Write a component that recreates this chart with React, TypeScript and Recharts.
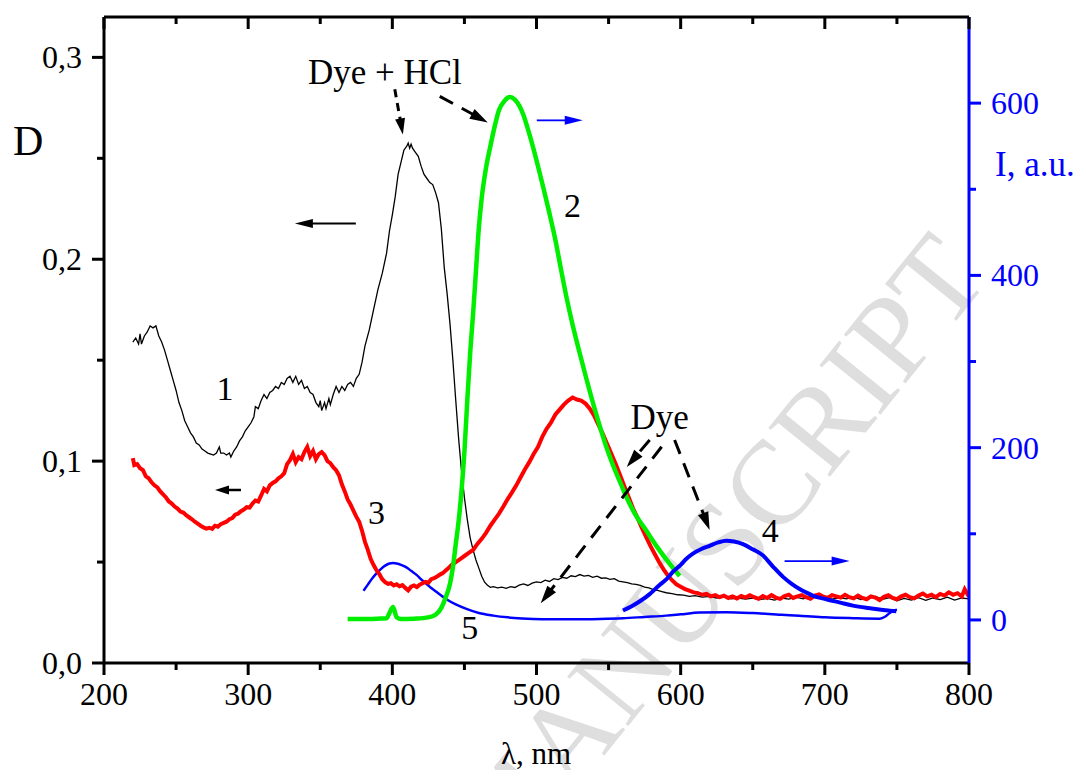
import React from 'react';
import { LineChart, Line, XAxis, YAxis, ReferenceLine, ReferenceDot } from 'recharts';

const FONT = '"Liberation Serif", "Times New Roman", Times, serif';

// ---------- axes ----------
const xMajorTicks = [200, 300, 400, 500, 600, 700, 800];
const xMinorTicks = [250, 350, 450, 550, 650, 750];
const leftMajorTicks = [0, 0.1, 0.2, 0.3];
const leftMinorTicks = [0.05, 0.15, 0.25];
const rightMajorTicks = [0, 200, 400, 600];
const rightMinorTicks = [100, 300, 500];
const xDomain: [number, number] = [200, 800];
const leftDomain: [number, number] = [0, 0.32];
const rightDomain: [number, number] = [-50, 700];

// ---------- curve 1: absorbance, Dye + HCl (left axis) ----------
const curve1: [number, number][] = [
  [220, 0.159], [222, 0.161], [224, 0.158], [225, 0.163], [226, 0.158], [228, 0.162], [230, 0.164],
  [232, 0.167], [234, 0.166], [236, 0.167], [238, 0.162], [240, 0.159], [242, 0.155], [244, 0.15],
  [246, 0.145], [248, 0.14], [250, 0.135], [252, 0.129], [254, 0.125], [256, 0.12], [258, 0.117],
  [260, 0.114], [262, 0.112], [264, 0.109], [266, 0.108], [268, 0.106], [270, 0.105], [272, 0.104],
  [274, 0.1035], [276, 0.103], [278, 0.104], [280, 0.107], [281, 0.104], [283, 0.104], [285, 0.103],
  [287, 0.104], [288, 0.102], [290, 0.105], [292, 0.107], [294, 0.11], [296, 0.112], [298, 0.115],
  [300, 0.117], [302, 0.119], [304, 0.122], [305, 0.127], [307, 0.126], [309, 0.13], [311, 0.133],
  [313, 0.131], [315, 0.134], [317, 0.135], [319, 0.137], [321, 0.136], [323, 0.139], [325, 0.138],
  [327, 0.141], [329, 0.142], [331, 0.139], [333, 0.142], [335, 0.138], [337, 0.14], [339, 0.136],
  [341, 0.137], [343, 0.134], [345, 0.133], [347, 0.129], [349, 0.127], [350, 0.13], [351, 0.125],
  [353, 0.129], [354, 0.126], [356, 0.131], [357, 0.128], [359, 0.133], [361, 0.137], [363, 0.134],
  [365, 0.137], [367, 0.135], [369, 0.138], [371, 0.139], [373, 0.137], [375, 0.141], [377, 0.143],
  [379, 0.149], [381, 0.157], [384, 0.165], [387, 0.175], [390, 0.185], [393, 0.193], [396, 0.203],
  [398, 0.214], [400, 0.222], [402, 0.231], [404, 0.242], [406, 0.248], [408, 0.254], [410, 0.256],
  [411, 0.2575], [412, 0.255], [413, 0.257], [414, 0.255], [416, 0.253], [418, 0.251], [420, 0.246],
  [422, 0.242], [424, 0.24], [426, 0.238], [428, 0.237], [430, 0.233], [432, 0.228], [434, 0.215],
  [436, 0.196], [438, 0.183], [440, 0.168], [442, 0.15], [444, 0.13], [446, 0.111], [448, 0.095],
  [450, 0.082], [452, 0.071], [454, 0.062], [456, 0.056], [458, 0.051], [460, 0.047], [462, 0.043],
  [464, 0.04], [466, 0.0385], [468, 0.0375], [470, 0.0378], [473, 0.0372], [476, 0.0376], [479, 0.037],
  [482, 0.0378], [485, 0.0374], [488, 0.0386], [491, 0.0392], [494, 0.0384], [497, 0.0396], [500, 0.0402],
  [503, 0.0398], [506, 0.041], [509, 0.0404], [512, 0.0418], [515, 0.0413], [518, 0.0424], [521, 0.042],
  [524, 0.0432], [527, 0.0428], [530, 0.0438], [533, 0.043], [536, 0.0434], [539, 0.0424], [542, 0.043],
  [545, 0.042], [548, 0.0422], [551, 0.0414], [554, 0.0418], [557, 0.0406], [560, 0.0402], [563, 0.0398],
  [566, 0.0392], [569, 0.039], [572, 0.0384], [575, 0.0376], [578, 0.0372], [581, 0.0364], [584, 0.036],
  [587, 0.0354], [590, 0.0348], [594, 0.0344], [598, 0.0338], [602, 0.0336], [606, 0.033], [610, 0.0334],
  [615, 0.0326], [620, 0.033], [625, 0.0322], [630, 0.0326], [635, 0.0318], [640, 0.0322], [645, 0.0316],
  [650, 0.0322], [655, 0.0314], [660, 0.032], [665, 0.0312], [670, 0.0322], [675, 0.0316], [680, 0.0326],
  [685, 0.0318], [690, 0.033], [695, 0.032], [700, 0.0326], [705, 0.0316], [710, 0.0324], [715, 0.0318],
  [720, 0.0328], [725, 0.0314], [730, 0.0322], [735, 0.033], [740, 0.0316], [745, 0.0324], [750, 0.0308],
  [755, 0.032], [760, 0.0312], [765, 0.0324], [770, 0.031], [775, 0.0322], [780, 0.0314], [785, 0.0326],
  [790, 0.0312], [795, 0.0322], [800, 0.0318],
];

// ---------- curve 3: absorbance, Dye (left axis) ----------
const curve3: [number, number][] = [
  [220, 0.1015], [221, 0.098], [223, 0.0985], [225, 0.0965], [227, 0.0955], [229, 0.0925], [231, 0.0915],
  [233, 0.0895], [235, 0.088], [237, 0.087], [239, 0.085], [241, 0.0835], [243, 0.082], [245, 0.08],
  [247, 0.079], [249, 0.0775], [251, 0.0765], [253, 0.075], [255, 0.0745], [257, 0.0732], [259, 0.0722],
  [261, 0.0712], [263, 0.07], [265, 0.069], [267, 0.068], [269, 0.0672], [271, 0.0666], [273, 0.067],
  [275, 0.0664], [277, 0.068], [279, 0.0675], [281, 0.0688], [283, 0.0694], [285, 0.07], [287, 0.0712],
  [289, 0.0718], [291, 0.0735], [293, 0.074], [295, 0.0752], [297, 0.076], [299, 0.0772], [301, 0.077],
  [303, 0.079], [305, 0.0805], [307, 0.08], [309, 0.083], [311, 0.0862], [313, 0.085], [315, 0.088],
  [317, 0.0892], [319, 0.09], [321, 0.0915], [323, 0.0925], [325, 0.094], [327, 0.0985], [329, 0.1005],
  [331, 0.1035], [333, 0.0995], [335, 0.102], [337, 0.101], [339, 0.1045], [341, 0.107], [343, 0.1025],
  [345, 0.105], [347, 0.101], [349, 0.1035], [351, 0.1045], [353, 0.103], [355, 0.1], [357, 0.099],
  [359, 0.097], [361, 0.0955], [363, 0.093], [365, 0.0885], [367, 0.085], [369, 0.081], [371, 0.0785],
  [373, 0.0755], [375, 0.0725], [377, 0.07], [379, 0.0655], [381, 0.06], [383, 0.056], [385, 0.0515],
  [387, 0.0485], [389, 0.046], [391, 0.044], [393, 0.0415], [395, 0.04], [397, 0.0392], [399, 0.0395],
  [401, 0.0384], [403, 0.039], [405, 0.038], [407, 0.0386], [409, 0.0372], [411, 0.036], [413, 0.0378],
  [415, 0.0384], [417, 0.0376], [419, 0.0388], [421, 0.0395], [423, 0.0402], [425, 0.0398], [427, 0.0415],
  [429, 0.042], [431, 0.0428], [433, 0.0438], [435, 0.0445], [437, 0.0458], [439, 0.047], [441, 0.0485],
  [444, 0.05], [447, 0.0515], [450, 0.053], [453, 0.0545], [456, 0.056], [459, 0.059], [462, 0.0615],
  [465, 0.0645], [468, 0.068], [471, 0.071], [474, 0.074], [477, 0.0775], [480, 0.0812], [483, 0.0845],
  [486, 0.088], [489, 0.092], [492, 0.096], [495, 0.0995], [498, 0.1035], [501, 0.107], [504, 0.112],
  [507, 0.116], [510, 0.119], [513, 0.123], [516, 0.1255], [519, 0.128], [522, 0.13], [525, 0.1315],
  [528, 0.1305], [531, 0.13], [534, 0.1285], [537, 0.126], [540, 0.1225], [543, 0.118], [546, 0.1135],
  [549, 0.1085], [552, 0.1035], [555, 0.0985], [558, 0.093], [561, 0.0875], [564, 0.082], [567, 0.0765],
  [570, 0.072], [573, 0.067], [576, 0.0625], [579, 0.058], [582, 0.054], [585, 0.05], [588, 0.0465],
  [591, 0.0435], [594, 0.041], [597, 0.039], [600, 0.0378], [603, 0.0366], [606, 0.0358], [609, 0.035],
  [612, 0.0346], [615, 0.0338], [618, 0.0342], [621, 0.033], [624, 0.0336], [627, 0.0326], [630, 0.0334],
  [633, 0.0322], [636, 0.033], [639, 0.032], [642, 0.0332], [645, 0.0324], [648, 0.0336], [651, 0.0326],
  [654, 0.0318], [657, 0.0332], [660, 0.0322], [663, 0.0336], [666, 0.0324], [669, 0.0318], [672, 0.0332],
  [675, 0.0338], [678, 0.0322], [681, 0.033], [684, 0.0336], [687, 0.0326], [690, 0.0318], [693, 0.0334],
  [696, 0.034], [699, 0.0328], [702, 0.0322], [705, 0.0336], [708, 0.033], [711, 0.0324], [714, 0.0338],
  [717, 0.0326], [720, 0.032], [723, 0.0334], [726, 0.0322], [729, 0.0316], [732, 0.033], [735, 0.0324],
  [738, 0.0312], [741, 0.0328], [744, 0.0336], [747, 0.0322], [750, 0.0316], [753, 0.033], [756, 0.0338],
  [759, 0.0326], [762, 0.032], [765, 0.0334], [768, 0.0344], [771, 0.033], [774, 0.0338], [777, 0.0326],
  [780, 0.0342], [783, 0.0334], [786, 0.035], [789, 0.0338], [792, 0.0346], [795, 0.033], [797, 0.0365],
  [799, 0.034], [800, 0.0348],
];

// ---------- curve 2: fluorescence, Dye + HCl (right axis) ----------
const curve2: [number, number][] = [
  [369, 1], [380, 1], [390, 1.5], [396, 2], [398, 8], [400.5, 15], [403, 3], [406, 1], [415, 1.5],
  [425, 3], [430, 6], [434, 14], [437, 26], [440, 42], [442, 61], [444, 88], [446, 115], [448, 150],
  [450, 195], [452, 255], [454, 310], [456, 355], [458, 405], [460, 455], [462, 490], [465, 525],
  [468, 550], [471, 573], [474, 592], [478, 603], [481.5, 607], [485, 604], [488, 597], [491, 586],
  [494, 570], [497.6, 549], [501, 527], [505, 500], [509, 472], [513, 442], [517, 407], [521, 373],
  [525, 343], [529, 316], [534.6, 280], [540, 247], [545, 219], [548.4, 201], [553, 180], [558, 160],
  [562.3, 143], [568, 124], [576, 104], [584, 84], [592, 66], [599.3, 51],
];

// ---------- curve 4: fluorescence, Dye (right axis) ----------
const curve4: [number, number][] = [
  [560, 11], [566, 16], [572, 22], [578.5, 30], [585, 40], [590, 47], [594.7, 56], [600, 64], [604, 71],
  [608.5, 77], [614, 82], [620, 86], [626, 90], [631.7, 92], [637, 91], [643.2, 88], [650, 82],
  [657, 75], [664, 62], [671, 50], [677, 42], [682.5, 36], [687, 32], [692, 28], [701, 24], [710, 20.4],
  [719.5, 16.6], [730, 13.8], [740.4, 11.6], [745, 10.8], [749.6, 10],
];

// ---------- curve 5: fluorescence (right axis) ----------
const curve5: [number, number][] = [
  [380, 34], [383, 41], [386, 48], [389, 54], [392, 59], [395, 63], [398, 65.5], [400.5, 66], [403, 65.5],
  [406, 64], [409.8, 61], [413, 57], [417, 52], [420, 47], [423.6, 42], [427, 37], [431, 32], [437.5, 24],
  [444, 18], [451.4, 12.8], [460, 8], [470, 5], [480, 3], [490, 1.8], [497.6, 1.2], [510, 0.8],
  [525, 0.8], [543.8, 1.2], [560, 2], [575, 3.5], [590, 5], [600, 6.5], [613, 8.5], [631.7, 9],
  [650, 8], [670, 6], [682.5, 5], [700, 3], [720, 2], [738, 1.5], [742, 4], [745, 8], [748, 11], [750, 12],
];

// ---------- annotations (data coordinates: nm, D) ----------
const curveLabels: { text: string; x: number; y: number }[] = [
  { text: '1', x: 283.9, y: 0.1362 },
  { text: '2', x: 524.9, y: 0.2271 },
  { text: '3', x: 389.0, y: 0.0749 },
  { text: '4', x: 662.2, y: 0.0659 },
  { text: '5', x: 453.7, y: 0.0179 },
];
const noteLabels: { text: string; x: number; y: number }[] = [
  { text: 'Dye + HCl', x: 394.8, y: 0.287 },
  { text: 'Dye', x: 585.4, y: 0.1161 },
];
type Arrow = { from: [number, number]; to: [number, number]; color: string; kind: string };
const arrows: Arrow[] = [
  { from: [374.7, 0.2177], to: [332.4, 0.2177], color: '#000000', kind: 'thin' },
  { from: [295.0, 0.0857], to: [277.0, 0.0857], color: '#000000', kind: 'small' },
  { from: [500.2, 0.2688], to: [532.1, 0.2688], color: '#0000ff', kind: 'thin' },
  { from: [672.1, 0.0505], to: [717.2, 0.0505], color: '#0000ff', kind: 'thin' },
  { from: [401.7, 0.2842], to: [407.3, 0.2618], color: '#000000', kind: 'dashShort' },
  { from: [432.9, 0.2807], to: [466.2, 0.2678], color: '#000000', kind: 'dash' },
  { from: [578.5, 0.1105], to: [562.6, 0.0971], color: '#000000', kind: 'dash' },
  { from: [586.8, 0.1071], to: [502.9, 0.0296], color: '#000000', kind: 'dash' },
  { from: [595.8, 0.1105], to: [620.1, 0.0659], color: '#000000', kind: 'dash' },
];

const toPoints = (arr: [number, number][]) => arr.map(([x, y]) => ({ x, y }));

const arrowStyle: Record<string, { w: number; dash?: string; hl: number; hw: number }> = {
  thin: { w: 1.8, hl: 18, hw: 9 },
  small: { w: 2.5, hl: 14, hw: 9 },
  dashShort: { w: 3, dash: '8 6', hl: 16, hw: 10 },
  dash: { w: 3, dash: '15 10', hl: 18, hw: 11 },
};

const makeArrowShape = (color: string, kind: string) => (p: any) => {
  const s = arrowStyle[kind];
  const x1 = p.x1, y1 = p.y1, x2 = p.x2, y2 = p.y2;
  const dx = x2 - x1, dy = y2 - y1;
  const L = Math.hypot(dx, dy) || 1;
  const ux = dx / L, uy = dy / L;
  const bx = x2 - ux * s.hl, by = y2 - uy * s.hl;
  const pts = `${x2},${y2} ${bx - (uy * s.hw) / 2},${by + (ux * s.hw) / 2} ${bx + (uy * s.hw) / 2},${by - (ux * s.hw) / 2}`;
  return (
    <g>
      <line x1={x1} y1={y1} x2={bx + ux * 2} y2={by + uy * 2} stroke={color} strokeWidth={s.w} strokeDasharray={s.dash} />
      <polygon points={pts} fill={color} />
    </g>
  );
};

const isMult = (v: number, step: number) => Math.abs(v / step - Math.round(v / step)) < 1e-6;

const BottomTick = (p: any) => {
  const v = p.payload.value;
  const major = isMult(v, 100);
  return (
    <g>
      <line x1={p.x} y1={p.y} x2={p.x} y2={p.y + (major ? 12 : 7)} stroke="#000" strokeWidth={3} />
      {major && (
        <text x={p.x} y={p.y + 42} textAnchor="middle" fontSize={32} fontFamily={FONT} fill="#000">
          {v}
        </text>
      )}
    </g>
  );
};
const TopTick = (p: any) => {
  const v = p.payload.value;
  const major = isMult(v, 100);
  return <line x1={p.x} y1={p.y} x2={p.x} y2={p.y + (major ? 12 : 7)} stroke="#000" strokeWidth={3} />;
};
const LeftTick = (p: any) => {
  const v = p.payload.value;
  const major = isMult(v, 0.1);
  return (
    <g>
      <line x1={p.x} y1={p.y} x2={p.x - (major ? 12 : 7)} y2={p.y} stroke="#000" strokeWidth={3} />
      {major && (
        <text x={p.x - 22} y={p.y + 11} textAnchor="end" fontSize={32} fontFamily={FONT} fill="#000">
          {v.toFixed(1).replace('.', ',')}
        </text>
      )}
    </g>
  );
};
const RightTick = (p: any) => {
  const v = p.payload.value;
  const major = isMult(v, 200);
  return (
    <g>
      <line x1={p.x} y1={p.y} x2={p.x + (major ? 12 : 7)} y2={p.y} stroke="#0000ff" strokeWidth={3} />
      {major && (
        <text x={p.x + 22} y={p.y + 11} textAnchor="start" fontSize={32} fontFamily={FONT} fill="#0000ff">
          {v}
        </text>
      )}
    </g>
  );
};

const W = 1078;
const H = 762;

export default function App() {
  const xTicks = [...xMajorTicks, ...xMinorTicks].sort((a, b) => a - b);
  const lTicks = [...leftMajorTicks, ...leftMinorTicks].sort((a, b) => a - b);
  const rTicks = [...rightMajorTicks, ...rightMinorTicks].sort((a, b) => a - b);
  return (
    <div style={{ position: 'relative', width: W, height: H }}>
      <svg width={W} height={H} style={{ position: 'absolute', left: 0, top: 0 }}>
        <text
          x={983}
          y={270}
          textAnchor="end"
          fontFamily={FONT}
          fontSize={120}
          fill="#dedede"
          transform="rotate(-51 983 270)"
        >
          ACCEPTED MANUSCRIPT
        </text>
      </svg>
      <LineChart width={W} height={H} margin={{ top: 8, right: 0, bottom: 47, left: 0 }}>
        <XAxis
          xAxisId="x"
          dataKey="x"
          type="number"
          domain={xDomain}
          ticks={xTicks}
          interval={0}
          allowDataOverflow
          tickLine={false}
          tickSize={0}
          tickMargin={0}
          tick={(p: any) => <BottomTick {...p} />}
          axisLine={{ stroke: '#000', strokeWidth: 3 }}
          height={60}
          label={{
            content: (lp: any) => {
              const vb = lp.viewBox || { x: 96, y: 655 };
              return (
                <text x={vb.x + 432} y={vb.y + 101} textAnchor="middle" fontSize={31} fontFamily={FONT} fill="#000">
                  λ, nm
                </text>
              );
            },
          }}
        />
        <XAxis
          xAxisId="top"
          dataKey="x"
          orientation="top"
          type="number"
          domain={xDomain}
          ticks={xTicks}
          interval={0}
          allowDataOverflow
          tickLine={false}
          tickSize={0}
          tickMargin={0}
          tick={(p: any) => <TopTick {...p} />}
          axisLine={{ stroke: '#000', strokeWidth: 3 }}
          height={1}
        />
        <YAxis
          yAxisId="left"
          type="number"
          domain={leftDomain}
          ticks={lTicks}
          interval={0}
          allowDataOverflow
          tickLine={false}
          tickSize={0}
          tickMargin={0}
          tick={(p: any) => <LeftTick {...p} />}
          axisLine={{ stroke: '#000', strokeWidth: 3 }}
          width={96}
          label={{
            content: (lp: any) => {
              const vb = lp.viewBox || { x: 0, y: 9 };
              return (
                <text x={vb.x + 5} y={vb.y + 138} fontSize={42} fontFamily={FONT} fill="#000">
                  D
                </text>
              );
            },
          }}
        />
        <YAxis
          yAxisId="right"
          orientation="right"
          type="number"
          domain={rightDomain}
          ticks={rTicks}
          interval={0}
          allowDataOverflow
          tickLine={false}
          tickSize={0}
          tickMargin={0}
          tick={(p: any) => <RightTick {...p} />}
          axisLine={{ stroke: '#0000ff', strokeWidth: 3 }}
          width={117}
          label={{
            content: (lp: any) => {
              const vb = lp.viewBox || { x: 961, y: 9 };
              return (
                <text x={vb.x + 26} y={vb.y + 159} fontSize={35} fontFamily={FONT} fill="#0000ff">
                  I, a.u.
                </text>
              );
            },
          }}
        />

        <Line xAxisId="x" yAxisId="right" data={toPoints(curve5)} dataKey="y" type="monotone" stroke="#0000ff" strokeWidth={2.5} dot={false} isAnimationActive={false} />
        <Line xAxisId="x" yAxisId="left" data={toPoints(curve1)} dataKey="y" type="linear" stroke="#000000" strokeWidth={1.3} dot={false} isAnimationActive={false} />
        <Line xAxisId="x" yAxisId="left" data={toPoints(curve3)} dataKey="y" type="linear" stroke="#ff0000" strokeWidth={4} dot={false} isAnimationActive={false} />
        <Line xAxisId="x" yAxisId="right" data={toPoints(curve2)} dataKey="y" type="monotone" stroke="#00ee00" strokeWidth={4.5} dot={false} isAnimationActive={false} />
        <Line xAxisId="x" yAxisId="right" data={toPoints(curve4)} dataKey="y" type="monotone" stroke="#0000ff" strokeWidth={4} dot={false} isAnimationActive={false} />

        {arrows.map((a, i) => (
          <ReferenceLine
            key={`arrow-${i}`}
            xAxisId="x"
            yAxisId="left"
            ifOverflow="visible"
            segment={[{ x: a.from[0], y: a.from[1] }, { x: a.to[0], y: a.to[1] }]}
            shape={makeArrowShape(a.color, a.kind)}
          />
        ))}
        {curveLabels.map((l, i) => (
          <ReferenceDot
            key={`cl-${i}`}
            xAxisId="x"
            yAxisId="left"
            x={l.x}
            y={l.y}
            ifOverflow="visible"
            shape={(p: any) => (
              <text x={p.cx} y={p.cy + 12} textAnchor="middle" fontSize={34} fontFamily={FONT} fill="#000">
                {l.text}
              </text>
            )}
          />
        ))}
        {noteLabels.map((l, i) => (
          <ReferenceDot
            key={`nl-${i}`}
            xAxisId="x"
            yAxisId="left"
            x={l.x}
            y={l.y}
            ifOverflow="visible"
            shape={(p: any) => (
              <text x={p.cx} y={p.cy} textAnchor="middle" fontSize={35} fontFamily={FONT} fill="#000">
                {l.text}
              </text>
            )}
          />
        ))}
      </LineChart>
    </div>
  );
}
